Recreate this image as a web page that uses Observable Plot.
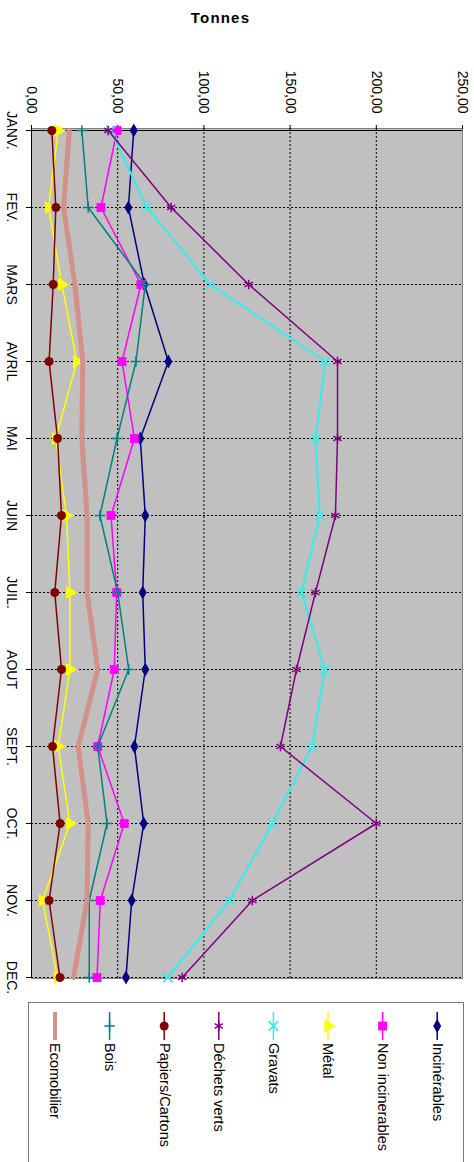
<!DOCTYPE html>
<html><head><meta charset="utf-8">
<script src="https://cdn.jsdelivr.net/npm/d3@7"></script>
<script src="https://cdn.jsdelivr.net/npm/@observablehq/plot@0.6"></script>
<style>
body{margin:0;background:#fff;font-family:"Liberation Sans",Arial,sans-serif;}
#wrap{position:relative;width:474px;height:1162px;overflow:hidden;}
#title{position:absolute;left:0;top:9px;width:441px;text-align:center;font-weight:bold;font-size:15px;line-height:17px;letter-spacing:1.2px;}
#chart{position:absolute;left:0;top:0;}
#legend{position:absolute;left:0;top:990px;}
</style></head><body>
<div id="wrap"><div id="chart"></div><div id="title">Tonnes</div><div id="legend"></div></div>
<script>
const months = ["JANV.","FEV.","MARS","AVRIL","MAI","JUIN","JUIL.","AOUT","SEPT.","OCT.","NOV.","DEC."];
const xTicks = [0, 50, 100, 150, 200, 250];
const seriesNames = ["Incinérables","Non incinerables","Métal","Gravats","Déchets verts","Papiers/Cartons","Bois","Ecomobilier"];
const incinerables    = [59.3, 56.2, 65.5, 79.4, 63.1, 66.0, 64.5, 66.0, 59.7, 65.1, 58.1, 54.8];
const nonIncinerables = [49.6, 40.3, 63.5, 52.5, 59.7, 46.1, 49.4, 48.0, 38.4, 53.8, 39.9, 38.0];
const metal           = [15.5, 9.9, 17.6, 26.3, 14.1, 20.3, 22.3, 22.3, 15.5, 22.3, 6.4, 15.1];
const gravats         = [46.0, 66.9, 103.7, 170.5, 164.7, 167.2, 156.6, 170.1, 162.8, 139.7, 114.9, 79.1];
const dechetsVerts    = [44.5, 81.0, 126.0, 177.5, 177.5, 176.3, 164.7, 153.7, 144.4, 200.0, 128.1, 87.4];
const papiers         = [11.8, 14.1, 12.6, 10.2, 15.1, 17.4, 13.5, 17.4, 12.2, 16.6, 10.2, 16.5];
const bois            = [29.2, 32.9, 66.0, 60.6, 49.6, 39.7, 50.0, 56.4, 38.4, 43.8, 33.5, 33.5];
const ecomobilier     = [21.9, 18.6, 25.2, 29.7, 29.2, 32.2, 32.2, 38.4, 27.1, 32.9, 32.2, 24.4];

const valuesList = [incinerables, nonIncinerables, metal, gravats, dechetsVerts, papiers, bois, ecomobilier];
const styles = [
  {color:"#000080", symbol:"diamond", r:4.2, fill:true, w:1.5},
  {color:"#ff00ff", symbol:"square", r:5, fill:true, w:1.5},
  {color:"#ffff00", symbol:"triangle", r:4.8, fill:true, w:1.5, rot:90},
  {color:"#33eded", symbol:"times", r:4.5, fill:false, w:2},
  {color:"#800080", symbol:"asterisk", r:4.5, fill:false, w:1.5},
  {color:"#800000", symbol:"circle", r:4.5, fill:true, w:1.5},
  {color:"#008080", symbol:"plus", r:3.5, fill:false, w:1.5},
  {color:"#d4918c", symbol:null, r:0, fill:false, w:5}
];

const marks = [
  Plot.frame({fill:"#c0c0c0", stroke:"#808080"}),
  Plot.gridX({ticks:[50,100,150,200], stroke:"#000", strokeOpacity:1, strokeDasharray:"2,2"}),
  Plot.gridY({stroke:"#000", strokeOpacity:1, strokeDasharray:"2,2"}),
  Plot.ruleX([0], {stroke:"#000"}),
  Plot.ruleY([months[0]], {stroke:"#000"}),
  Plot.axisX({anchor:"top", ticks:xTicks, tickSize:4, fill:"none", label:null}),
  Plot.axisY({anchor:"left", tickSize:5, fill:"none", label:null}),
  Plot.text(xTicks, {x:d=>d, text:d=>d.toFixed(2).replace(".", ","), frameAnchor:"top", dy:-15, rotate:90, textAnchor:"end", lineAnchor:"middle", fontSize:14, fill:"#000"}),
  Plot.text(months, {y:d=>d, text:d=>d, frameAnchor:"left", dx:-20, rotate:90, textAnchor:"middle", lineAnchor:"middle", fontSize:14, fill:"#000"})
];
valuesList.forEach((vals, i) => {
  const s = styles[i];
  const data = months.map((m, j) => ({month:m, value:vals[j]}));
  marks.push(Plot.line(data, {x:"value", y:"month", stroke:s.color, strokeWidth:s.w}));
  if (s.symbol) {
    marks.push(Plot.dot(data, {x:"value", y:"month", symbol:s.symbol, r:s.r, rotate:s.rot || 0,
      fill: s.fill ? s.color : "none", stroke: s.fill ? "none" : s.color, strokeWidth: s.fill ? 0 : 1.5}));
  }
});

const chart = Plot.plot({
  width:474, height:1004,
  marginTop:128, marginLeft:31, marginRight:12, marginBottom:26,
  x:{domain:[0,250]},
  y:{type:"point", domain:months, padding:0},
  style:{fontFamily:"Liberation Sans, Arial, sans-serif", fontSize:"14px", color:"#000", background:"transparent"},
  marks
});
document.getElementById("chart").appendChild(chart);

// Legend (rotated like the chart)
const lg = d3.select("#legend").append("svg").attr("width",474).attr("height",172)
  .style("font-family","Liberation Sans, Arial, sans-serif");
lg.append("rect").attr("x",28.5).attr("y",12.5).attr("width",435).attr("height",200)
  .attr("fill","none").attr("stroke","#777");
const order = [7,6,5,4,3,2,1,0];
const symMap = {diamond:d3.symbolDiamond, square:d3.symbolSquare, triangle:d3.symbolTriangle, times:d3.symbolTimes, asterisk:d3.symbolAsterisk, circle:d3.symbolCircle, plus:d3.symbolPlus};
order.forEach((si, k) => {
  const s = styles[si];
  const x = 55 + k * 54.6;
  const g = lg.append("g");
  g.append("line").attr("x1",x).attr("x2",x).attr("y1",22).attr("y2",50)
    .attr("stroke",s.color).attr("stroke-width", si===7 ? 4 : 1.5);
  if (s.symbol) {
    const size = Math.PI * s.r * s.r;
    g.append("path").attr("d", d3.symbol(symMap[s.symbol], size)())
      .attr("transform",`translate(${x},36) rotate(${s.rot||0})`)
      .attr("fill", s.fill ? s.color : "none").attr("stroke", s.fill ? "none" : s.color).attr("stroke-width",1.5);
  }
  g.append("text").attr("transform",`translate(${x},53) rotate(90)`)
    .attr("text-anchor","start").attr("dy","0.32em").attr("font-size",14.5).attr("fill","#000")
    .text(seriesNames[si]);
});
</script>
</body></html>
